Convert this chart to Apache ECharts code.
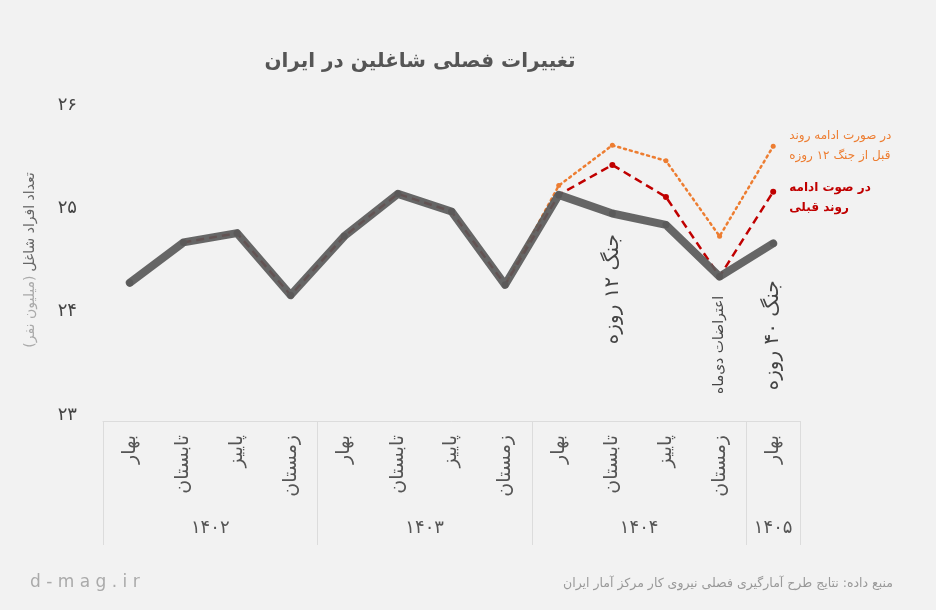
<!DOCTYPE html>
<html>
<head>
<meta charset="utf-8">
<script src="https://cdn.jsdelivr.net/npm/echarts@6/dist/echarts.min.js"></script>
<style>
  html, body { margin: 0; padding: 0; background: #f2f2f2; }
  #main { width: 936px; height: 610px; }
</style>
</head>
<body>
<div id="main" dir="rtl"></div>
<script>
// quarters of each year, 1402 .. 1405
const quarters = [
  "بهار", "تابستان", "پاییز", "زمستان",
  "بهار", "تابستان", "پاییز", "زمستان",
  "بهار", "تابستان", "پاییز", "زمستان",
  "بهار",
];
const years = ["۱۴۰۲", "۱۴۰۳", "۱۴۰۴", "۱۴۰۵"];
const quartersPerYear = [4, 4, 4, 1];

// employed people (million)
const employed = [24.28, 24.67, 24.76, 24.16, 24.73, 25.14, 24.97, 24.26, 25.13, 24.95, 24.84, 24.34, 24.66];
// if the previous trend had continued
const trendPrev = [null, 24.67, 24.76, 24.16, 24.73, 25.14, 24.97, 24.26, 25.13, 25.42, 25.11, 24.34, 25.16];
// if the trend before the 12 day war had continued
const trendPreWar = [null, null, null, null, null, null, null, 24.26, 25.22, 25.61, 25.46, 24.73, 25.6];

const yTicks = [23, 24, 25, 26];
const yTickLabels = ["۲۳", "۲۴", "۲۵", "۲۶"];

const font = "'DejaVu Sans', sans-serif";

// year group boundaries and centres on a 0..13 scale
let bounds = [0];
quartersPerYear.forEach((n) => bounds.push(bounds[bounds.length - 1] + n));
let centers = quartersPerYear.map((n, i) => bounds[i] + n / 2);

let option = {
  backgroundColor: "#f2f2f2",
  title: {
    text: "تغییرات فصلی شاغلین در ایران",
    left: 415,
    top: 47,
    textAlign: "center",
    textStyle: { fontFamily: font, fontSize: 20, fontWeight: "bold", color: "#555" },
  },
  grid: { left: 103, right: 136, top: 105, bottom: 195 },
  xAxis: [
    {
      type: "category",
      data: quarters,
      offset: 6,
      axisLine: { lineStyle: { color: "#dcdcdc" } },
      axisTick: { show: false },
      axisLabel: {
        rotate: 90,
        margin: 14,
        interval: 0,
        fontFamily: font,
        fontSize: 19,
        color: "#555",
      },
    },
    {
      type: "value",
      min: 0,
      max: 13,
      position: "bottom",
      offset: 130,
      splitLine: { show: false },
      axisLine: { show: false },
      axisTick: {
        show: true,
        inside: true,
        length: 124,
        customValues: bounds,
        lineStyle: { color: "#dcdcdc" },
      },
      axisLabel: {
        inside: true,
        margin: 8,
        customValues: centers,
        formatter: (v) => years[centers.indexOf(v)],
        fontFamily: font,
        fontSize: 18,
        color: "#555",
      },
    },
  ],
  yAxis: {
    type: "value",
    min: 23,
    max: 26,
    interval: 1,
    splitLine: { show: false },
    axisLine: { show: false },
    axisTick: { show: false },
    axisLabel: {
      margin: 26,
      fontFamily: font,
      fontSize: 18,
      color: "#444",
      formatter: (v) => yTickLabels[yTicks.indexOf(v)],
    },
    name: "{b|(میلیون نفر)} {a|تعداد افراد شاغل}",
    nameLocation: "middle",
    nameGap: 66,
    nameTextStyle: {
      fontFamily: font,
      rich: {
        a: { fontFamily: font, fontSize: 14, color: "#666" },
        b: { fontFamily: font, fontSize: 14, color: "#aaa" },
      },
    },
  },
  series: [
    {
      name: "trendPreWar",
      type: "line",
      data: trendPreWar,
      symbol: "circle",
      symbolSize: 5,
      itemStyle: { color: "#ed7d31" },
      lineStyle: { color: "#ed7d31", width: 2.5, type: [2, 4], cap: "round" },
      endLabel: {
        show: true,
        distance: 16,
        formatter: "در صورت ادامه روند\nقبل از جنگ ۱۲ روزه",
        fontFamily: font,
        fontSize: 12,
        lineHeight: 20,
        color: "#ed7d31",
      },
      z: 2,
    },
    {
      name: "trendPrev",
      type: "line",
      data: trendPrev,
      symbol: "circle",
      symbolSize: 6,
      itemStyle: { color: "#c00000" },
      lineStyle: { color: "#c00000", width: 2.5, type: [8, 5] },
      endLabel: {
        show: true,
        distance: 16,
        offset: [0, 6],
        formatter: "در صوت ادامه\nروند قبلی",
        fontFamily: font,
        fontSize: 12,
        fontWeight: "bold",
        lineHeight: 20,
        color: "#c00000",
      },
      z: 3,
    },
    {
      name: "employed",
      type: "line",
      data: employed,
      symbol: "circle",
      symbolSize: 7,
      itemStyle: { color: "rgba(90,90,90,0.92)" },
      lineStyle: { color: "rgba(90,90,90,0.92)", width: 8, cap: "round", join: "round" },
      z: 4,
      markPoint: {
        symbol: "circle",
        symbolSize: 0,
        label: {
          show: true,
          rotate: 90,
          fontFamily: font,
          color: "#444",
        },
        data: [
          { coord: [9, 24.15], value: "جنگ ۱۲ روزه", label: { fontSize: 20, offset: [7, 0], formatter: "جنگ ۱۲ روزه" } },
          { coord: [11, 23.64], value: "اعتراضات دی‌ماه", label: { fontSize: 14, offset: [4, 0], formatter: "اعتراضات دی‌ماه" } },
          { coord: [12, 23.8], value: "جنگ ۴۰ روزه", label: { fontSize: 20, offset: [-3, 0], formatter: "جنگ ۴۰ روزه" } },
        ],
      },
    },
  ],
  graphic: [
    {
      type: "text",
      left: 30,
      top: 574,
      style: { text: "d - m a g . i r", fontFamily: font, fontSize: 17, fill: "#aaa" },
    },
    {
      type: "text",
      right: 43,
      top: 577,
      style: {
        text: "منبع داده: نتایج طرح آمارگیری فصلی نیروی کار مرکز آمار ایران",
        fontFamily: font,
        fontSize: 12.5,
        fill: "#999",
      },
    },
  ],
};

var myChart = echarts.init(document.getElementById("main"));
myChart.setOption(option);
</script>
</body>
</html>
